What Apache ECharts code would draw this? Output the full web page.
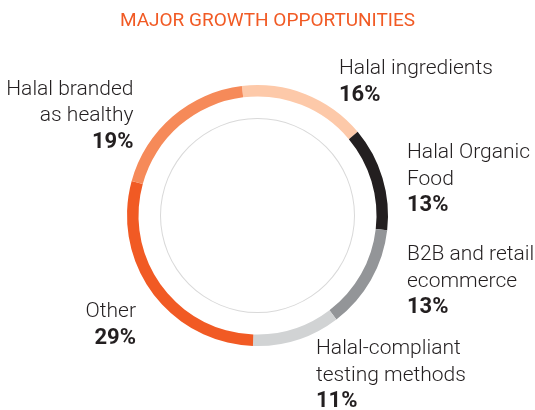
<!DOCTYPE html>
<html><head><meta charset="utf-8">
<script src="https://cdn.jsdelivr.net/npm/echarts@6/dist/echarts.min.js"></script>
<style>html,body{margin:0;padding:0;background:#fff}#c{width:535px;height:410px}</style>
</head><body><div id="c"></div>
<script>
const categories = ["Halal ingredients", "Halal Organic\nFood", "B2B and retail\necommerce", "Halal-compliant\ntesting methods", "Other", "Halal branded\nas healthy"];
const shares = [16, 13, 13, 11, 29, 19];
const colors = ["#fdc9a9", "#231f20", "#939598", "#d1d3d4", "#f15a24", "#f68a59"];
const titleText = "MAJOR GROWTH OPPORTUNITIES";
// label anchor positions (layout, not data)
const labelPos = [
  {x: 339, y: 55.5, align: 'left'},
  {x: 407, y: 139.5, align: 'left'},
  {x: 407, y: 241.5, align: 'left'},
  {x: 316, y: 335.5, align: 'left'},
  {x: 136, y: 298.5, align: 'right'},
  {x: 133.5, y: 76, align: 'right'}
];
const chart = echarts.init(document.getElementById('c'), null, {renderer: 'canvas'});
const FONT = 'Roboto';
chart.setOption({
  animation: false,
  title: {
    text: titleText, left: 'center', top: 7,
    textStyle: {color: '#f15a24', fontFamily: FONT, fontWeight: 'normal', fontSize: 19}
  },
  series: [
    {
      type: 'pie', silent: true, center: [257.5, 215.5], radius: [96.5, 97.5],
      label: {show: false}, labelLine: {show: false},
      itemStyle: {color: '#d9d9d9'}, data: [{value: 1, name: ''}]
    },
    {
      type: 'pie', center: [257.5, 215.5], radius: [119, 130.5], startAngle: 96.9, clockwise: true,
      avoidLabelOverlap: false,
      labelLine: {show: false},
      label: {
        show: true,
        formatter: p => '{n|' + p.name.split('\n').join('}\n{n|') + '}\n{v|' + p.value + '%}',
        rich: {
          n: {fontFamily: FONT, fontWeight: 300, fontSize: 21, lineHeight: 26.5, color: '#231f20'},
          v: {fontFamily: FONT, fontWeight: 'bold', fontSize: 22, lineHeight: 26.5, color: '#231f20'}
        }
      },
      labelLayout: p => {
        const lp = labelPos[p.dataIndex];
        return {x: lp.x, y: lp.y, align: lp.align, verticalAlign: 'top'};
      },
      data: categories.map((c, i) => ({
        name: c, value: shares[i],
        itemStyle: {color: colors[i]},
        label: {align: labelPos[i].align}
      }))
    }
  ]
});
</script></body></html>
